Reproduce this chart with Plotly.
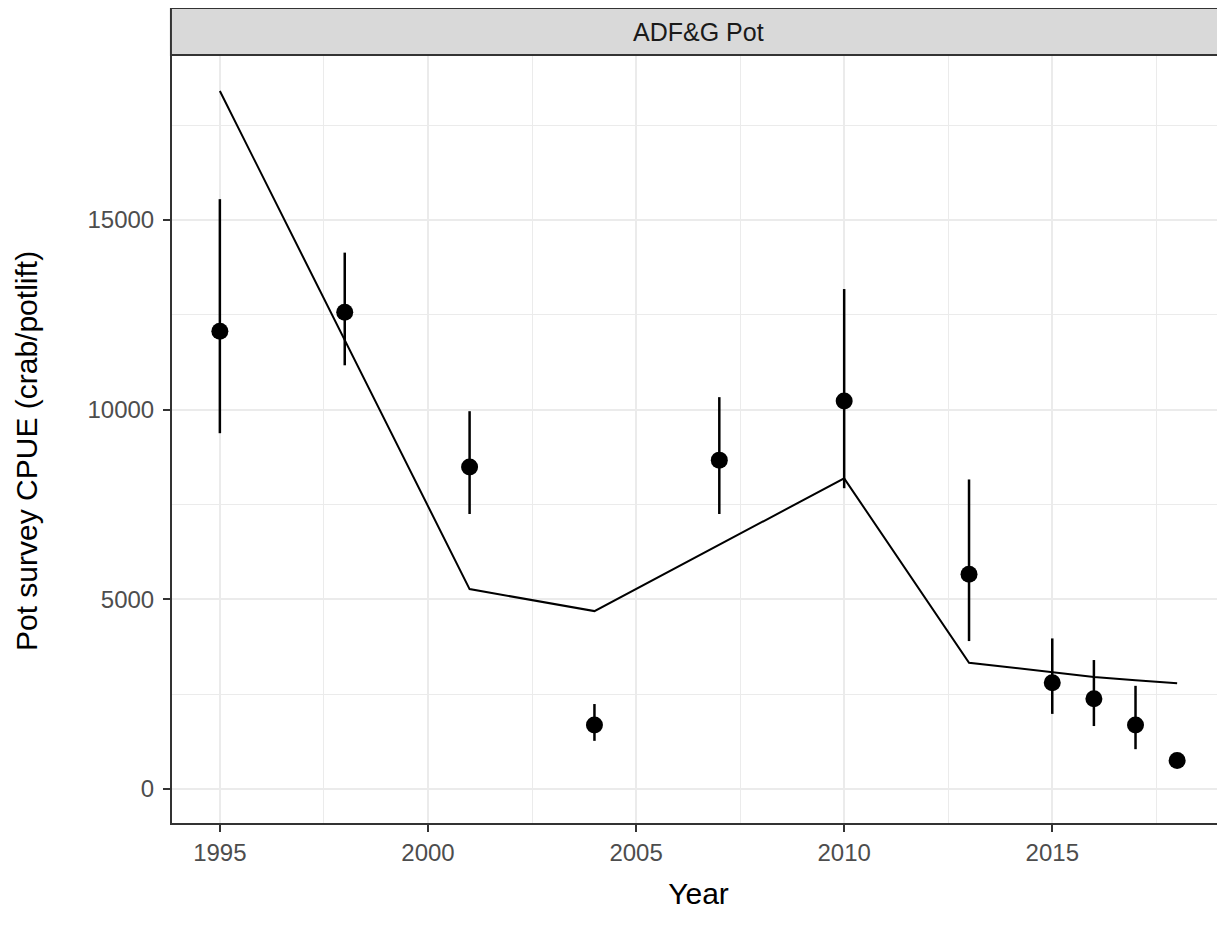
import plotly.graph_objects as go

# ---- data ----
survey_years = [1995, 1998, 2001, 2004, 2007, 2010, 2013, 2015, 2016, 2017, 2018]
obs_cpue = [12070, 12570, 8490, 1690, 8670, 10230, 5660, 2800, 2380, 1690, 750]
obs_upper = [15550, 14140, 9960, 2240, 10330, 13180, 8160, 3970, 3400, 2720, 750]
obs_lower = [9380, 11170, 7250, 1270, 7250, 7930, 3900, 1980, 1660, 1050, 750]

model_years = [1995, 1998, 2001, 2004, 2007, 2010, 2013, 2015, 2016, 2017, 2018]
model_cpue = [18400, 11830, 5270, 4690, 6450, 8190, 3330, 3080, 2950, 2870, 2790]

x_ticks = [1995, 2000, 2005, 2010, 2015]
y_ticks = [0, 5000, 10000, 15000]

panel_title = "ADF&G Pot"
x_title = "Year"
y_title = "Pot survey CPUE (crab/potlift)"

FONT = "Liberation Sans, Arial, sans-serif"

err_plus = [u - v for u, v in zip(obs_upper, obs_cpue)]
err_minus = [v - l for v, l in zip(obs_cpue, obs_lower)]

fig = go.Figure()
fig.add_trace(go.Scatter(
    x=model_years, y=model_cpue, mode="lines",
    line=dict(color="black", width=2), showlegend=False, name="Model",
))
fig.add_trace(go.Scatter(
    x=survey_years, y=obs_cpue, mode="markers",
    marker=dict(color="black", size=17),
    error_y=dict(type="data", symmetric=False, array=err_plus, arrayminus=err_minus,
                 width=0, thickness=2.5, color="black"),
    showlegend=False, name="Observed",
))

# page body adds an 8px offset; compensate so the plot lands where the reference has it
W, H = 1217, 922
ml, mr, mt, mb = 164, 0, 47, 107
plot_w = W - ml - mr
plot_h = H - mt - mb
strip_h = 47

fig.update_layout(
    width=W, height=H,
    margin=dict(l=ml, r=mr, t=mt, b=mb, pad=0),
    paper_bgcolor="white", plot_bgcolor="white",
    font=dict(family=FONT),
    xaxis=dict(
        range=[1993.85, 2019.15], tickvals=x_ticks, ticktext=[str(v) for v in x_ticks],
        showgrid=True, gridcolor="#EBEBEB", gridwidth=2,
        minor=dict(showgrid=True, gridcolor="#EBEBEB", gridwidth=1.2,
                   tickvals=[1997.5, 2002.5, 2007.5, 2012.5, 2017.5]),
        showline=True, linecolor="#333333", linewidth=2,
        ticks="outside", ticklen=7, tickwidth=2, tickcolor="#333333",
        tickfont=dict(size=24, color="#4D4D4D", family=FONT),
        zeroline=False,
        title=dict(text=x_title, font=dict(size=30, color="black", family=FONT), standoff=18),
    ),
    yaxis=dict(
        range=[-896, 19350], tickvals=y_ticks, ticktext=[str(v) for v in y_ticks],
        showgrid=True, gridcolor="#EBEBEB", gridwidth=2,
        minor=dict(showgrid=True, gridcolor="#EBEBEB", gridwidth=1.2,
                   tickvals=[2500, 7500, 12500, 17500]),
        showline=True, linecolor="#333333", linewidth=2,
        ticks="outside", ticklen=7, tickwidth=2, tickcolor="#333333",
        tickfont=dict(size=24, color="#4D4D4D", family=FONT),
        ticklabelstandoff=4,
        zeroline=False,
    ),
    shapes=[dict(
        type="rect", xref="paper", yref="paper",
        x0=-0.001, x1=1.01, y0=1.0, y1=1 + strip_h / plot_h,
        fillcolor="#D9D9D9", line=dict(color="#333333", width=2), layer="above",
    )],
    annotations=[
        dict(
            text=panel_title, xref="paper", yref="paper", x=0.5, y=1 + strip_h / 2 / plot_h,
            xanchor="center", yanchor="middle", showarrow=False,
            font=dict(size=25, color="#1A1A1A", family=FONT),
        ),
        dict(
            text=y_title, xref="paper", yref="paper",
            x=(26 - 172) / plot_w, y=(823 - 451) / plot_h,
            xanchor="center", yanchor="middle", textangle=-90, showarrow=False,
            font=dict(size=30, color="black", family=FONT),
        ),
    ],
)

fig.write_html("out.html")
